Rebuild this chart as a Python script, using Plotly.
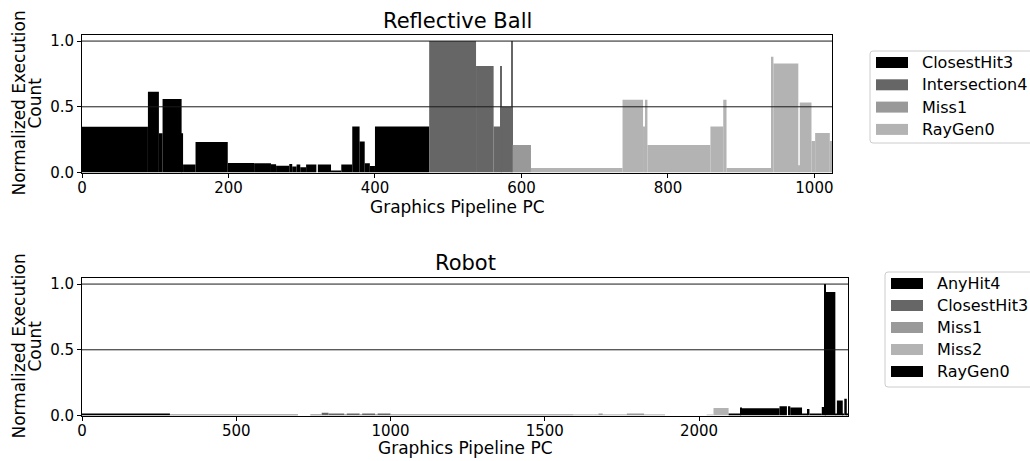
import plotly.graph_objects as go

W, H = 1030, 461
FONT = "DejaVu Sans"

# ---- Reflective Ball: per-PC execution counts, stored as contiguous PC ranges ----
ball_shaders = ["ClosestHit3", "Intersection4", "Miss1", "RayGen0"]
ball_shader_start = [0, 474, 588, 613]
ball_colors = ["#000000", "#666666", "#999999", "#b3b3b3"]
ball_edges = [0, 90, 105, 110, 136, 138, 155, 199, 235, 258, 265, 283, 287, 293,
              298, 306, 320, 322, 340, 354, 369, 379, 386, 393, 400, 474, 538,
              562, 571, 572.5, 586.5, 588, 613, 738, 766, 769.5, 772, 858, 875.5,
              880, 941.5, 944, 978, 980, 996, 1001, 1021, 1024]
ball_counts = [0.348, 0.614, 0.298, 0.56, 0.298, 0.06, 0.232, 0.073, 0.07, 0.062,
               0.052, 0.065, 0.045, 0.06, 0.04, 0.06, 0.0, 0.06, 0.015, 0.06,
               0.35, 0.235, 0.07, 0.05, 0.35, 1.0, 0.81, 0.35, 0.81, 0.50, 1.0,
               0.21, 0.035, 0.553, 0.35, 0.553, 0.21, 0.35, 0.553, 0.035, 0.88,
               0.83, 0.055, 0.533, 0.24, 0.30, 0.24]
ball_xticks = [0, 200, 400, 600, 800, 1000]

# ---- Robot ----
robot_shaders = ["AnyHit4", "ClosestHit3", "Miss1", "Miss2", "RayGen0"]
robot_shader_start = [0, 285, 1590, 1900, 2096]
robot_colors = ["#000000", "#666666", "#999999", "#b3b3b3", "#000000"]
robot_edges = [0, 285, 700, 740, 777, 799, 850, 858, 900, 908, 950, 958, 1000,
               1593, 1658, 1674, 1688, 1766, 1822, 1890, 2025, 2047, 2096, 2136,
               2139, 2261, 2285, 2290, 2296, 2334, 2352, 2358, 2398, 2406, 2409,
               2442, 2447, 2466, 2471, 2479, 2483]
robot_counts = [0.012, 0.003, 0.0, 0.004, 0.02, 0.01, 0.004, 0.01, 0.004, 0.01,
                0.004, 0.01, 0.003, 0.004, 0.003, 0.012, 0.003, 0.012, 0.003,
                0.0, 0.004, 0.058, 0.012, 0.06, 0.056, 0.07, 0.0, 0.07, 0.06,
                0.01, 0.05, 0.012, 0.064, 1.0, 0.94, 0.01, 0.115, 0.01, 0.128,
                0.01]
robot_xticks = [0, 500, 1000, 1500, 2000]

y_ticks = [0.0, 0.5, 1.0]
y_ticktext = ["0.0", "0.5", "1.0"]


def fx(px):
    return px / W


def fy(py):
    return 1 - py / H


def owner(start, shader_start):
    idx = 0
    for i, s in enumerate(shader_start):
        if start >= s:
            idx = i
    return idx


fig = go.Figure()


def add_bars(edges, counts, shaders, shader_start, colors, xa, ya):
    for k, name in enumerate(shaders):
        xs, ws, ys = [], [], []
        for i, c in enumerate(counts):
            if owner(edges[i], shader_start) == k:
                xs.append(edges[i])
                ws.append(edges[i + 1] - edges[i])
                ys.append(c)
        fig.add_trace(go.Bar(
            x=xs, y=ys, width=ws, offset=0, name=name,
            marker=dict(color=colors[k], line=dict(width=0)),
            xaxis=xa, yaxis=ya, showlegend=False, hoverinfo="skip",
        ))


add_bars(ball_edges, ball_counts, ball_shaders, ball_shader_start, ball_colors, "x", "y")
add_bars(robot_edges, robot_counts, robot_shaders, robot_shader_start, robot_colors, "x2", "y2")

axis_common = dict(
    showline=True, linecolor="black", linewidth=1, mirror=True,
    ticks="outside", ticklen=4, tickwidth=1, tickcolor="black",
    showgrid=False, zeroline=False, automargin=False,
    tickfont=dict(family=FONT, size=15, color="black"),
)

# plot-area geometry in pixels
top_box = (82, 34.5, 832, 172.5)
bot_box = (82, 277.5, 848, 415.5)

fig.update_layout(
    template="none",
    width=W, height=H, autosize=False,
    margin=dict(l=0, r=0, t=0, b=0, autoexpand=False),
    paper_bgcolor="white", plot_bgcolor="white",
    barmode="overlay", showlegend=False,
    font=dict(family=FONT, color="black"),
    xaxis=dict(domain=[fx(top_box[0]), fx(top_box[2])], range=[0, 1024],
               tickvals=ball_xticks, anchor="y", ticklabelstandoff=-3, **axis_common),
    yaxis=dict(domain=[fy(top_box[3]), fy(top_box[1])], range=[0, 1.05],
               tickvals=y_ticks, ticktext=y_ticktext, anchor="x", **axis_common),
    xaxis2=dict(domain=[fx(bot_box[0]), fx(bot_box[2])], range=[0, 2483],
                tickvals=robot_xticks, anchor="y2", ticklabelstandoff=-3, **axis_common),
    yaxis2=dict(domain=[fy(bot_box[3]), fy(bot_box[1])], range=[0, 1.05],
                tickvals=y_ticks, ticktext=y_ticktext, anchor="x2", **axis_common),
)

# reference lines at 0.5 and 1.0, drawn over the bars
for yref, xref in (("y", "x"), ("y2", "x2")):
    for yv in (0.5, 1.0):
        fig.add_shape(type="line", xref=f"{xref} domain", yref=yref,
                      x0=0, x1=1, y0=yv, y1=yv, layer="above",
                      line=dict(color="#1a1a1a", width=1))

annotations = []


def text(x, y, s, size, **kw):
    annotations.append(dict(
        x=fx(x), y=fy(y), xref="paper", yref="paper", text=s, showarrow=False,
        font=dict(family=FONT, size=size, color="black"), **kw))


for box, title, title_off, lab_off in ((top_box, "Reflective Ball", 13, 34.5),
                                       (bot_box, "Robot", 15, 32.5)):
    cx = (box[0] + box[2]) / 2
    cy = (box[1] + box[3]) / 2
    text(cx, box[1] - title_off, title, 21, xanchor="center", yanchor="middle")
    text(cx, box[3] + lab_off, "Graphics Pipeline PC", 17, xanchor="center", yanchor="middle")
    text(18, cy, "Normalized Execution", 17, xanchor="center", yanchor="middle", textangle=-90)
    text(34, cy, "Count", 17, xanchor="center", yanchor="middle", textangle=-90)


def legend(x0, y0, x1, y1, sw0, sw1, tx, first_y, step, labels, colors):
    r = 3
    rx, ry = r / W, r / H
    X0, X1, Y0, Y1 = fx(x0), fx(x1), fy(y0), fy(y1)
    path = (f"M {X0 + rx},{Y0} L {X1 - rx},{Y0} Q {X1},{Y0} {X1},{Y0 - ry} "
            f"L {X1},{Y1 + ry} Q {X1},{Y1} {X1 - rx},{Y1} L {X0 + rx},{Y1} "
            f"Q {X0},{Y1} {X0},{Y1 + ry} L {X0},{Y0 - ry} Q {X0},{Y0} {X0 + rx},{Y0} Z")
    fig.add_shape(type="path", path=path, xref="paper", yref="paper",
                  fillcolor="white", line=dict(color="#cccccc", width=1), layer="above")
    for i, (lab, col) in enumerate(zip(labels, colors)):
        yc = first_y + i * step
        fig.add_shape(type="rect", xref="paper", yref="paper",
                      x0=fx(sw0), x1=fx(sw1), y0=fy(yc - 5.5), y1=fy(yc + 5.5),
                      fillcolor=col, line=dict(width=0), layer="above")
        text(tx, yc, lab, 16, xanchor="left", yanchor="middle")


legend(870, 51, 1036, 143, 876, 908, 919.5, 62.5, 22.3, ball_shaders, ball_colors)
legend(885, 272, 1036, 387, 891, 923, 934.5, 283.5, 22, robot_shaders, robot_colors)

fig.update_layout(annotations=annotations)
fig.write_html("out.html")
